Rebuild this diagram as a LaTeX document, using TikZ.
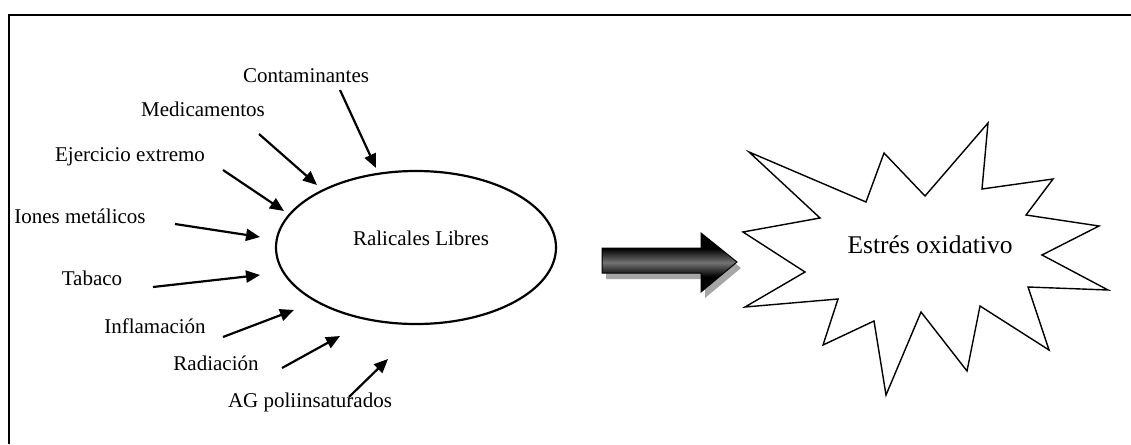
\documentclass[tikz,border=0pt]{standalone}
\usepackage{fontspec}
\setmainfont{Liberation Serif}
\usetikzlibrary{arrows.meta,shapes.geometric}
\pgfdeclareverticalshading{arrowshade}{100bp}{color(0bp)=(black); color(38bp)=(black); color(50bp)=(black!55); color(62bp)=(black); color(100bp)=(black)}
\begin{document}
\begin{tikzpicture}[x=1pt,y=-1pt,
  lbl/.style={font=\fontsize{21}{24}\selectfont, inner sep=0pt},
  inarrow/.style={line width=2.2pt, -{Triangle[length=14pt,width=12pt]}},
  frame/.style={line width=2.2pt},
  bigarrow/.style={draw=black, line width=1pt, shading=arrowshade},
  arrowshadow/.style={fill=black!35},
  starshape/.style={draw, line width=1.4pt, fill=white}
]
\useasboundingbox (0,0) rectangle (1131,444);
% frame
\draw[frame] (9,444) -- (9,15) -- (1131,15);

% central ellipse
\node[ellipse, draw, line width=2.2pt, minimum width=280pt, minimum height=153pt] (rl) at (416,247.5) {};
\node[lbl] (rlt) at (421,238) {Ralicales Libres};

% labels
\node[lbl] (cont) at (306,76) {Contaminantes};
\node[lbl] (medi) at (203,109) {Medicamentos};
\node[lbl] (ejer) at (130,157) {Ejercicio extremo};
\node[lbl] (ione) at (80,216) {Iones metálicos};
\node[lbl] (taba) at (92,278) {Tabaco};
\node[lbl] (infl) at (155,326) {Inflamación};
\node[lbl] (radi) at (216,363) {Radiación};
\node[lbl] (agpo) at (310,402) {AG poliinsaturados};

% arrow end points
\coordinate (c1) at (340,90);   \coordinate (c2) at (376,168);
\coordinate (m1) at (259,134);  \coordinate (m2) at (317,185);
\coordinate (e1) at (223,170);  \coordinate (e2) at (284,211);
\coordinate (i1) at (175,224);  \coordinate (i2) at (260,237);
\coordinate (t1) at (153,287);  \coordinate (t2) at (260,275);
\coordinate (f1) at (223,337);  \coordinate (f2) at (294,310);
\coordinate (r1) at (282,368);  \coordinate (r2) at (340,336);
\coordinate (a1) at (349,397);  \coordinate (a2) at (388,359);

\draw[inarrow] (c1) -- (c2);
\draw[inarrow] (m1) -- (m2);
\draw[inarrow] (e1) -- (e2);
\draw[inarrow] (i1) -- (i2);
\draw[inarrow] (t1) -- (t2);
\draw[inarrow] (f1) -- (f2);
\draw[inarrow] (r1) -- (r2);
\draw[inarrow] (a1) -- (a2);

% big block arrow with shadow
\fill[arrowshadow, shift={(4,6)}] (602,248) -- (701,248) -- (701,233) -- (737,262) -- (701,292) -- (701,273) -- (602,273) -- cycle;
\path[bigarrow] (602,248) -- (701,248) -- (701,233) -- (737,262) -- (701,292) -- (701,273) -- (602,273) -- cycle;

% explosion star
\path[starshape] (988,123) -- (982,189) -- (1053,179) -- (1026,215) -- (1099,226) -- (1042,255)
  -- (1108,290) -- (1028,287) -- (1049,350) -- (980,306) -- (967,371) -- (921,312)
  -- (886,395) -- (874,321) -- (823,345) -- (838,299) -- (745,307) -- (805,272)
  -- (743,232) -- (820,218) -- (749,152) -- (866,202) -- (884,153) -- (925,196) -- cycle;
\node[font=\fontsize{25.5}{29}\selectfont, inner sep=0pt] (eo) at (930,245) {Estrés oxidativo};
\end{tikzpicture}
\end{document}
